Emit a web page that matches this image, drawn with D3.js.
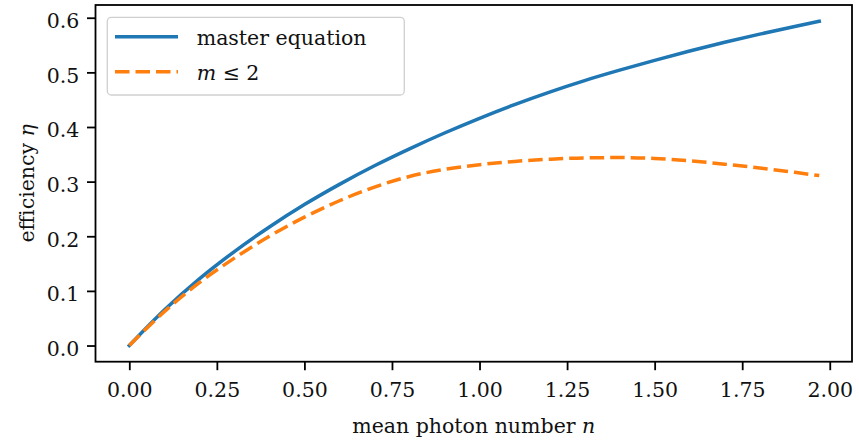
<!DOCTYPE html>
<html>
<head>
<meta charset="utf-8">
<script src="https://cdn.jsdelivr.net/npm/d3@7"></script>
<style>
  html, body { margin: 0; padding: 0; background: #fff; }
  svg { display: block; font-family: "DejaVu Serif", serif; }
</style>
</head>
<body>
<svg id="chart" width="859" height="442"></svg>
<script>
// Mean photon number n (x) and efficiency eta for the two models
const photonNumber = [0, 0.1, 0.2, 0.3, 0.4, 0.5, 0.6, 0.7, 0.8, 0.9, 1.0, 1.1, 1.2, 1.3, 1.4, 1.5, 1.6, 1.7, 1.8, 1.9, 1.97];
const masterEquation = [0, 0.065, 0.122, 0.172, 0.217, 0.258, 0.295, 0.329, 0.360, 0.389, 0.416, 0.441, 0.464, 0.485, 0.504, 0.522, 0.539, 0.555, 0.570, 0.584, 0.5935];
const truncatedM2 = [0, 0.062, 0.115, 0.160, 0.200, 0.235, 0.265, 0.290, 0.3095, 0.3225, 0.331, 0.337, 0.341, 0.3435, 0.3440, 0.3425, 0.338, 0.332, 0.325, 0.317, 0.311];

const xTicks = [0, 0.25, 0.5, 0.75, 1.0, 1.25, 1.5, 1.75, 2.0];
const yTicks = [0, 0.1, 0.2, 0.3, 0.4, 0.5, 0.6];
const xLimits = [-0.0965, 2.0635];
const yLimits = [-0.0296, 0.6233];

const plot = { left: 95.5, right: 852, top: 5, bottom: 361.7 };
const fontSize = 20.5;

const svg = d3.select("#chart");
svg.append("rect").attr("width", 859).attr("height", 442).attr("fill", "#fff");

const x = d3.scaleLinear().domain(xLimits).range([plot.left, plot.right]);
const y = d3.scaleLinear().domain(yLimits).range([plot.bottom, plot.top]);

// Curves
const series = [
  { name: "master", values: masterEquation, color: "#1f77b4", dash: null },
  { name: "m2", values: truncatedM2, color: "#ff7f0e", dash: "14.5,6" }
];
const line = d3.line()
  .x(d => x(d[0]))
  .y(d => y(d[1]))
  .curve(d3.curveMonotoneX);

svg.append("clipPath").attr("id", "plotclip")
  .append("rect")
  .attr("x", plot.left).attr("y", plot.top)
  .attr("width", plot.right - plot.left).attr("height", plot.bottom - plot.top);

const curves = svg.append("g").attr("clip-path", "url(#plotclip)");
series.forEach(s => {
  curves.append("path")
    .datum(photonNumber.map((n, i) => [n, s.values[i]]))
    .attr("d", line)
    .attr("fill", "none")
    .attr("stroke", s.color)
    .attr("stroke-width", 3.5)
    .attr("stroke-dasharray", s.dash)
    .attr("stroke-linecap", s.dash ? "butt" : "square")
    .attr("stroke-linejoin", "round");
});

// Axes
const xAxis = d3.axisBottom(x).tickValues(xTicks).tickFormat(d3.format(".2f")).tickSize(8.5);
const yAxis = d3.axisLeft(y).tickValues(yTicks).tickFormat(d3.format(".1f")).tickSize(8.5).tickPadding(7.7);

const gx = svg.append("g").attr("transform", `translate(0,${plot.bottom})`).call(xAxis);
const gy = svg.append("g").attr("transform", `translate(${plot.left},0)`).call(yAxis);
[gx, gy].forEach(g => {
  g.select(".domain").remove();
  g.selectAll(".tick line").attr("stroke", "#000").attr("stroke-width", 1.8);
  g.selectAll(".tick text")
    .attr("fill", "#111")
    .style("font-family", "'DejaVu Serif', serif")
    .style("font-size", fontSize + "px");
});
gx.selectAll(".tick text").attr("y", 35).attr("dy", 0);
gy.selectAll(".tick text").attr("dy", "0.48em");

// Frame
svg.append("rect")
  .attr("x", plot.left).attr("y", plot.top)
  .attr("width", plot.right - plot.left).attr("height", plot.bottom - plot.top)
  .attr("fill", "none").attr("stroke", "#000").attr("stroke-width", 1.8);

// Axis labels
const xl = svg.append("text")
  .attr("x", (plot.left + plot.right) / 2).attr("y", 433)
  .attr("text-anchor", "middle")
  .style("font-size", fontSize + "px").attr("fill", "#111");
xl.append("tspan").text("mean photon number ");
xl.append("tspan").attr("font-style", "italic").text("n");

const yl = svg.append("text")
  .attr("transform", `translate(33.5,${(plot.top + plot.bottom) / 2}) rotate(-90)`)
  .attr("text-anchor", "middle")
  .style("font-size", fontSize + "px").attr("fill", "#111");
yl.append("tspan").text("efficiency ");
yl.append("tspan").attr("font-style", "italic").text("η");

// Legend
const legend = svg.append("g");
legend.append("rect")
  .attr("x", 107.3).attr("y", 17.3).attr("width", 297).attr("height", 77.7)
  .attr("rx", 4).attr("ry", 4)
  .attr("fill", "#fff").attr("fill-opacity", 0.8)
  .attr("stroke", "#d0d0d0").attr("stroke-width", 1.3);

const legendRows = [
  { s: series[0], y: 36.7 },
  { s: series[1], y: 71.7 }
];
legendRows.forEach(r => {
  legend.append("line")
    .attr("x1", 115).attr("x2", 178)
    .attr("y1", r.y).attr("y2", r.y)
    .attr("stroke", r.s.color).attr("stroke-width", 3.5)
    .attr("stroke-dasharray", r.s.dash);
});
legend.append("text")
  .attr("x", 196.7).attr("y", 44.8)
  .style("font-size", fontSize + "px").attr("fill", "#111")
  .text("master equation");
const l2 = legend.append("text")
  .attr("x", 196.7).attr("y", 80)
  .style("font-size", fontSize + "px").attr("fill", "#111");
l2.append("tspan").attr("font-style", "italic").text("m");
l2.append("tspan").text(" ≤ 2");
</script>
</body>
</html>
